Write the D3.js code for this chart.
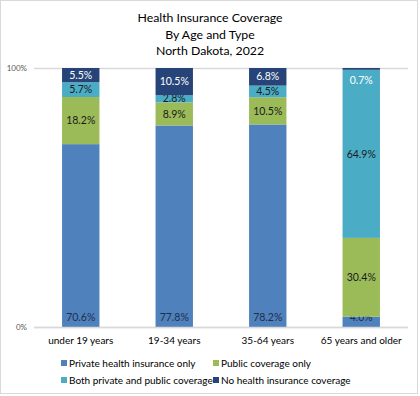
<!DOCTYPE html>
<html>
<head>
<meta charset="utf-8">
<script src="https://cdn.jsdelivr.net/npm/d3@7"></script>
<style>
  body { margin: 0; background: #fff; }
  svg { display: block; font-family: Lato, "Open Sans", sans-serif; }
</style>
</head>
<body>
<div id="chart"></div>
<script>
var ages = ["under 19 years", "19-34 years", "35-64 years", "65 years and older"];
var seriesNames = ["Private health insurance only", "Public coverage only",
                   "Both private and public coverage", "No health insurance coverage"];
var privateOnly = [70.6, 77.8, 78.2, 4.0];
var publicOnly = [18.2, 8.9, 10.5, 30.4];
var bothCov = [5.7, 2.8, 4.5, 64.9];
var noCov = [5.5, 10.5, 6.8, 0.7];
var yTicks = [0, 100];

var colors = ["#4f81bd", "#9bbb59", "#4bacc6", "#264478"];
var labelColors = ["#1f2f4a", "#1a1a1a", "#1a1a1a", "#ffffff"];

var width = 420, height = 396;

var svg = d3.select("#chart").append("svg")
    .attr("width", width)
    .attr("height", height);

svg.append("rect")
    .attr("x", 0.5).attr("y", 0.5)
    .attr("width", 417).attr("height", 393)
    .attr("fill", "#fff")
    .attr("stroke", "#d9d9d9");

var title = ["Health Insurance Coverage", "By Age and Type", "North Dakota, 2022"];
svg.selectAll(".title").data(title).enter().append("text")
    .attr("class", "title")
    .attr("x", 210)
    .attr("y", (d, i) => 22 + i * 16.7)
    .attr("text-anchor", "middle")
    .attr("font-size", 12.3)
    .attr("fill", "#000")
    .text(d => d);

var x = d3.scaleBand().domain(ages).range([34, 408]).paddingInner(0.6).paddingOuter(0.3);
var y = d3.scaleLinear().domain([0, 100]).range([327, 68]);

// gridlines
svg.append("g")
    .attr("transform", "translate(34,0)")
    .call(d3.axisLeft(y).tickValues(yTicks).tickSize(-374).tickFormat(""))
    .call(g => g.select(".domain").remove())
    .call(g => g.selectAll("line").attr("stroke", "#d9d9d9").attr("stroke-width", 1.3));

svg.append("g")
    .attr("transform", "translate(34,0)")
    .call(d3.axisLeft(y).tickValues(yTicks).tickSize(0).tickPadding(7).tickFormat(d => d + "%"))
    .call(g => g.select(".domain").remove())
    .call(g => g.selectAll("text").attr("font-size", 8).attr("fill", "#595959")
        .attr("font-family", "Lato, 'Open Sans', sans-serif"));

var table = ages.map((a, i) => ({
    age: a,
    s0: privateOnly[i], s1: publicOnly[i], s2: bothCov[i], s3: noCov[i]
}));
var stack = d3.stack().keys(["s0", "s1", "s2", "s3"]);
var stacked = stack(table);

var layers = svg.selectAll(".layer").data(stacked).enter().append("g")
    .attr("class", "layer")
    .attr("fill", (d, i) => colors[i]);

layers.selectAll("rect").data(d => d).enter().append("rect")
    .attr("x", d => x(d.data.age))
    .attr("width", x.bandwidth())
    .attr("y", d => y(d[1]))
    .attr("height", d => y(d[0]) - y(d[1]));

// bottom axis
svg.append("g")
    .attr("transform", "translate(0,327)")
    .call(d3.axisBottom(x).tickSize(0).tickPadding(10))
    .call(g => g.select(".domain").attr("stroke", "#d9d9d9").attr("stroke-width", 1.3).attr("d", "M34,0.5H408"))
    .call(g => g.selectAll("text").attr("font-size", 10).attr("fill", "#000")
        .attr("font-family", "Lato, 'Open Sans', sans-serif"));

// data labels
layers.each(function(layer, li) {
    d3.select(this).selectAll("text").data(layer).enter().append("text")
        .attr("x", d => x(d.data.age) + x.bandwidth() / 2)
        .attr("y", function(d) {
            if (li === 0) return y(d[0]) - 10;
            if (li === 3 && d[1] - d[0] < 2) return y(d[1]) + 12;
            return y((d[0] + d[1]) / 2);
        })
        .attr("dy", "0.35em")
        .attr("text-anchor", "middle")
        .attr("font-size", 10.5)
        .attr("fill", labelColors[li])
        .text(d => (d[1] - d[0]).toFixed(1) + "%");
});

// legend
var legendPos = [[61, 363], [213, 363], [61, 380], [213, 380]];
var legend = svg.selectAll(".legend").data(seriesNames).enter().append("g")
    .attr("class", "legend")
    .attr("transform", (d, i) => `translate(${legendPos[i][0]},${legendPos[i][1]})`);
legend.append("rect")
    .attr("x", 0).attr("y", -3)
    .attr("width", 6).attr("height", 6)
    .attr("fill", (d, i) => colors[i]);
legend.append("text")
    .attr("x", 8)
    .attr("dy", "0.35em")
    .attr("font-size", 10)
    .attr("fill", "#000")
    .text(d => d);
</script>
</body>
</html>
